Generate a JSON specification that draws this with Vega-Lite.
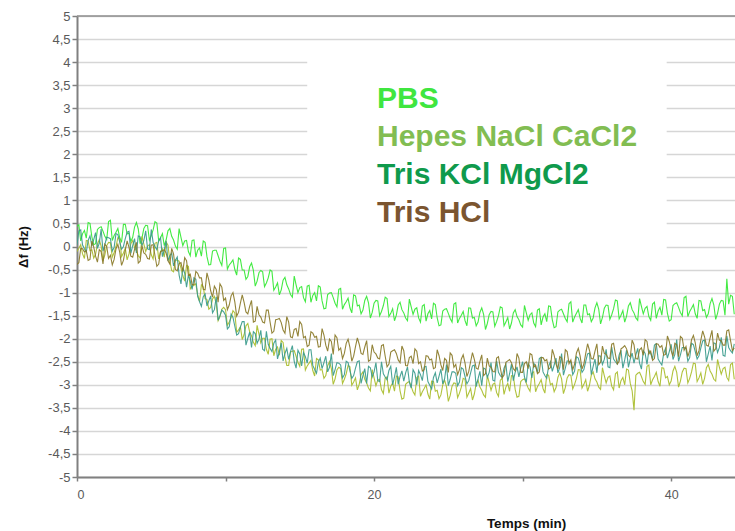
{
"$schema": "https://vega.github.io/schema/vega-lite/v6.json",
"width": 658, "height": 461,
"autosize": "none",
"padding": {"left": 77, "top": 16, "right": 0, "bottom": 54},
"background": "white",
"config": {"view": {"stroke": null}, "font": "Liberation Sans"},
"resolve": {"axis": {"x": "independent", "y": "independent"}},
"data": {"values": [
{"t":0,"PBS":0.44,"Hepes NaCl CaCl2":-0.11,"Tris KCl MgCl2":0.04,"Tris HCl":-0.39},
{"t":0.25,"PBS":0.12,"Hepes NaCl CaCl2":0.04,"Tris KCl MgCl2":0.36,"Tris HCl":-0.04},
{"t":0.5,"PBS":0.35,"Hepes NaCl CaCl2":-0.26,"Tris KCl MgCl2":-0.05,"Tris HCl":-0.12},
{"t":0.75,"PBS":0.52,"Hepes NaCl CaCl2":0.12,"Tris KCl MgCl2":0.13,"Tris HCl":-0.3},
{"t":1,"PBS":0.21,"Hepes NaCl CaCl2":-0.07,"Tris KCl MgCl2":0.01,"Tris HCl":0.12},
{"t":1.25,"PBS":0.06,"Hepes NaCl CaCl2":-0.17,"Tris KCl MgCl2":0.3,"Tris HCl":-0.21},
{"t":1.5,"PBS":0.41,"Hepes NaCl CaCl2":0.15,"Tris KCl MgCl2":0.07,"Tris HCl":-0.07},
{"t":1.75,"PBS":0.33,"Hepes NaCl CaCl2":-0.31,"Tris KCl MgCl2":-0.1,"Tris HCl":-0.38},
{"t":2,"PBS":0.15,"Hepes NaCl CaCl2":0.02,"Tris KCl MgCl2":0.2,"Tris HCl":0.0},
{"t":2.25,"PBS":0.57,"Hepes NaCl CaCl2":0.08,"Tris KCl MgCl2":0.17,"Tris HCl":-0.19},
{"t":2.5,"PBS":0.24,"Hepes NaCl CaCl2":-0.13,"Tris KCl MgCl2":-0.02,"Tris HCl":-0.28},
{"t":2.75,"PBS":0.39,"Hepes NaCl CaCl2":0.19,"Tris KCl MgCl2":0.26,"Tris HCl":0.05},
{"t":3,"PBS":0.09,"Hepes NaCl CaCl2":-0.22,"Tris KCl MgCl2":-0.06,"Tris HCl":-0.41},
{"t":3.25,"PBS":0.48,"Hepes NaCl CaCl2":-0.04,"Tris KCl MgCl2":0.17,"Tris HCl":-0.08},
{"t":3.5,"PBS":0.29,"Hepes NaCl CaCl2":-0.16,"Tris KCl MgCl2":0.33,"Tris HCl":-0.02},
{"t":3.75,"PBS":0.2,"Hepes NaCl CaCl2":0.13,"Tris KCl MgCl2":0.02,"Tris HCl":-0.23},
{"t":4,"PBS":0.52,"Hepes NaCl CaCl2":-0.09,"Tris KCl MgCl2":-0.14,"Tris HCl":0.09},
{"t":4.25,"PBS":0.06,"Hepes NaCl CaCl2":-0.25,"Tris KCl MgCl2":0.21,"Tris HCl":-0.32},
{"t":4.5,"PBS":0.39,"Hepes NaCl CaCl2":0.05,"Tris KCl MgCl2":0.13,"Tris HCl":-0.14},
{"t":4.75,"PBS":0.45,"Hepes NaCl CaCl2":0.01,"Tris KCl MgCl2":-0.05,"Tris HCl":-0.26},
{"t":5,"PBS":0.24,"Hepes NaCl CaCl2":-0.18,"Tris KCl MgCl2":0.37,"Tris HCl":0.03},
{"t":5.25,"PBS":0.54,"Hepes NaCl CaCl2":0.07,"Tris KCl MgCl2":0.0,"Tris HCl":-0.2},
{"t":5.5,"PBS":0.12,"Hepes NaCl CaCl2":-0.27,"Tris KCl MgCl2":0.12,"Tris HCl":-0.38},
{"t":5.75,"PBS":0.28,"Hepes NaCl CaCl2":-0.05,"Tris KCl MgCl2":-0.22,"Tris HCl":-0.09},
{"t":6,"PBS":0.14,"Hepes NaCl CaCl2":0.1,"Tris KCl MgCl2":0.12,"Tris HCl":-0.14},
{"t":6.25,"PBS":0.39,"Hepes NaCl CaCl2":-0.31,"Tris KCl MgCl2":-0.2,"Tris HCl":-0.38},
{"t":6.5,"PBS":0.14,"Hepes NaCl CaCl2":-0.55,"Tris KCl MgCl2":-0.42,"Tris HCl":-0.16},
{"t":6.75,"PBS":-0.06,"Hepes NaCl CaCl2":-0.3,"Tris KCl MgCl2":-0.23,"Tris HCl":-0.53},
{"t":7,"PBS":0.2,"Hepes NaCl CaCl2":-0.47,"Tris KCl MgCl2":-0.81,"Tris HCl":-0.35},
{"t":7.25,"PBS":0.12,"Hepes NaCl CaCl2":-0.75,"Tris KCl MgCl2":-0.58,"Tris HCl":-0.24},
{"t":7.5,"PBS":-0.11,"Hepes NaCl CaCl2":-0.43,"Tris KCl MgCl2":-0.62,"Tris HCl":-0.62},
{"t":7.75,"PBS":0.13,"Hepes NaCl CaCl2":-0.86,"Tris KCl MgCl2":-0.93,"Tris HCl":-0.83},
{"t":8,"PBS":-0.23,"Hepes NaCl CaCl2":-0.81,"Tris KCl MgCl2":-0.71,"Tris HCl":-0.54},
{"t":8.25,"PBS":-0.03,"Hepes NaCl CaCl2":-1.19,"Tris KCl MgCl2":-1.2,"Tris HCl":-0.68},
{"t":8.5,"PBS":0.12,"Hepes NaCl CaCl2":-0.88,"Tris KCl MgCl2":-1.09,"Tris HCl":-0.93},
{"t":8.75,"PBS":-0.22,"Hepes NaCl CaCl2":-1.15,"Tris KCl MgCl2":-1.29,"Tris HCl":-0.57},
{"t":9,"PBS":-0.39,"Hepes NaCl CaCl2":-1.32,"Tris KCl MgCl2":-1.07,"Tris HCl":-0.96},
{"t":9.25,"PBS":-0.08,"Hepes NaCl CaCl2":-1.08,"Tris KCl MgCl2":-1.37,"Tris HCl":-0.86},
{"t":9.5,"PBS":-0.2,"Hepes NaCl CaCl2":-1.61,"Tris KCl MgCl2":-1.6,"Tris HCl":-1.21},
{"t":9.75,"PBS":-0.41,"Hepes NaCl CaCl2":-1.36,"Tris KCl MgCl2":-1.38,"Tris HCl":-0.88},
{"t":10,"PBS":-0.03,"Hepes NaCl CaCl2":-1.37,"Tris KCl MgCl2":-1.49,"Tris HCl":-1.12},
{"t":10.25,"PBS":-0.4,"Hepes NaCl CaCl2":-1.64,"Tris KCl MgCl2":-1.74,"Tris HCl":-1.27},
{"t":10.5,"PBS":-0.29,"Hepes NaCl CaCl2":-1.39,"Tris KCl MgCl2":-1.54,"Tris HCl":-1.0},
{"t":10.75,"PBS":-0.62,"Hepes NaCl CaCl2":-1.86,"Tris KCl MgCl2":-1.92,"Tris HCl":-1.51},
{"t":11,"PBS":-0.28,"Hepes NaCl CaCl2":-1.74,"Tris KCl MgCl2":-1.75,"Tris HCl":-1.23},
{"t":11.25,"PBS":-0.51,"Hepes NaCl CaCl2":-1.91,"Tris KCl MgCl2":-1.63,"Tris HCl":-1.21},
{"t":11.5,"PBS":-0.65,"Hepes NaCl CaCl2":-1.67,"Tris KCl MgCl2":-1.99,"Tris HCl":-1.46},
{"t":11.75,"PBS":-0.36,"Hepes NaCl CaCl2":-1.94,"Tris KCl MgCl2":-2.19,"Tris HCl":-1.17},
{"t":12,"PBS":-0.86,"Hepes NaCl CaCl2":-2.15,"Tris KCl MgCl2":-1.89,"Tris HCl":-1.62},
{"t":12.25,"PBS":-0.57,"Hepes NaCl CaCl2":-1.9,"Tris KCl MgCl2":-2.01,"Tris HCl":-1.48},
{"t":12.5,"PBS":-0.55,"Hepes NaCl CaCl2":-1.99,"Tris KCl MgCl2":-2.23,"Tris HCl":-1.64},
{"t":12.75,"PBS":-0.79,"Hepes NaCl CaCl2":-2.23,"Tris KCl MgCl2":-1.84,"Tris HCl":-1.38},
{"t":13,"PBS":-0.51,"Hepes NaCl CaCl2":-2.01,"Tris KCl MgCl2":-2.21,"Tris HCl":-1.64},
{"t":13.25,"PBS":-0.95,"Hepes NaCl CaCl2":-2.37,"Tris KCl MgCl2":-2.1,"Tris HCl":-1.84},
{"t":13.5,"PBS":-0.79,"Hepes NaCl CaCl2":-2.18,"Tris KCl MgCl2":-2.44,"Tris HCl":-1.58},
{"t":13.75,"PBS":-0.94,"Hepes NaCl CaCl2":-2.04,"Tris KCl MgCl2":-2.09,"Tris HCl":-1.65},
{"t":14,"PBS":-0.67,"Hepes NaCl CaCl2":-2.39,"Tris KCl MgCl2":-2.32,"Tris HCl":-1.88},
{"t":14.25,"PBS":-0.92,"Hepes NaCl CaCl2":-2.58,"Tris KCl MgCl2":-2.45,"Tris HCl":-1.64},
{"t":14.5,"PBS":-1.1,"Hepes NaCl CaCl2":-2.27,"Tris KCl MgCl2":-2.15,"Tris HCl":-1.98},
{"t":14.75,"PBS":-0.83,"Hepes NaCl CaCl2":-2.38,"Tris KCl MgCl2":-2.64,"Tris HCl":-1.78},
{"t":15,"PBS":-0.89,"Hepes NaCl CaCl2":-2.6,"Tris KCl MgCl2":-2.33,"Tris HCl":-1.63},
{"t":15.25,"PBS":-1.11,"Hepes NaCl CaCl2":-2.22,"Tris KCl MgCl2":-2.3,"Tris HCl":-1.98},
{"t":15.5,"PBS":-0.86,"Hepes NaCl CaCl2":-2.59,"Tris KCl MgCl2":-2.53,"Tris HCl":-2.17},
{"t":15.75,"PBS":-1.21,"Hepes NaCl CaCl2":-2.47,"Tris KCl MgCl2":-2.24,"Tris HCl":-1.85},
{"t":16,"PBS":-1.0,"Hepes NaCl CaCl2":-2.81,"Tris KCl MgCl2":-2.67,"Tris HCl":-1.97},
{"t":16.25,"PBS":-0.85,"Hepes NaCl CaCl2":-2.46,"Tris KCl MgCl2":-2.51,"Tris HCl":-2.18},
{"t":16.5,"PBS":-1.18,"Hepes NaCl CaCl2":-2.67,"Tris KCl MgCl2":-2.65,"Tris HCl":-1.78},
{"t":16.75,"PBS":-1.34,"Hepes NaCl CaCl2":-2.8,"Tris KCl MgCl2":-2.38,"Tris HCl":-2.14},
{"t":17,"PBS":-1.01,"Hepes NaCl CaCl2":-2.5,"Tris KCl MgCl2":-2.62,"Tris HCl":-2.01},
{"t":17.25,"PBS":-1.11,"Hepes NaCl CaCl2":-2.99,"Tris KCl MgCl2":-2.8,"Tris HCl":-2.34},
{"t":17.5,"PBS":-1.31,"Hepes NaCl CaCl2":-2.68,"Tris KCl MgCl2":-2.52,"Tris HCl":-1.98},
{"t":17.75,"PBS":-0.91,"Hepes NaCl CaCl2":-2.65,"Tris KCl MgCl2":-2.57,"Tris HCl":-2.2},
{"t":18,"PBS":-1.26,"Hepes NaCl CaCl2":-2.88,"Tris KCl MgCl2":-2.78,"Tris HCl":-2.32},
{"t":18.25,"PBS":-1.12,"Hepes NaCl CaCl2":-2.58,"Tris KCl MgCl2":-2.52,"Tris HCl":-2.01},
{"t":18.5,"PBS":-1.44,"Hepes NaCl CaCl2":-3.01,"Tris KCl MgCl2":-2.86,"Tris HCl":-2.49},
{"t":18.75,"PBS":-1.07,"Hepes NaCl CaCl2":-2.85,"Tris KCl MgCl2":-2.64,"Tris HCl":-2.17},
{"t":19,"PBS":-1.27,"Hepes NaCl CaCl2":-2.99,"Tris KCl MgCl2":-2.48,"Tris HCl":-2.12},
{"t":19.25,"PBS":-1.38,"Hepes NaCl CaCl2":-2.72,"Tris KCl MgCl2":-2.8,"Tris HCl":-2.34},
{"t":19.5,"PBS":-1.08,"Hepes NaCl CaCl2":-2.96,"Tris KCl MgCl2":-2.97,"Tris HCl":-2.04},
{"t":19.75,"PBS":-1.55,"Hepes NaCl CaCl2":-3.13,"Tris KCl MgCl2":-2.63,"Tris HCl":-2.46},
{"t":20,"PBS":-1.23,"Hepes NaCl CaCl2":-2.85,"Tris KCl MgCl2":-2.72,"Tris HCl":-2.29},
{"t":20.25,"PBS":-1.18,"Hepes NaCl CaCl2":-2.9,"Tris KCl MgCl2":-2.91,"Tris HCl":-2.42},
{"t":20.5,"PBS":-1.41,"Hepes NaCl CaCl2":-3.11,"Tris KCl MgCl2":-2.5,"Tris HCl":-2.15},
{"t":20.75,"PBS":-1.1,"Hepes NaCl CaCl2":-2.85,"Tris KCl MgCl2":-2.83,"Tris HCl":-2.38},
{"t":21,"PBS":-1.52,"Hepes NaCl CaCl2":-3.18,"Tris KCl MgCl2":-2.69,"Tris HCl":-2.55},
{"t":21.25,"PBS":-1.35,"Hepes NaCl CaCl2":-2.96,"Tris KCl MgCl2":-3.0,"Tris HCl":-2.26},
{"t":21.5,"PBS":-1.49,"Hepes NaCl CaCl2":-2.81,"Tris KCl MgCl2":-2.62,"Tris HCl":-2.32},
{"t":21.75,"PBS":-1.21,"Hepes NaCl CaCl2":-3.13,"Tris KCl MgCl2":-2.82,"Tris HCl":-2.52},
{"t":22,"PBS":-1.44,"Hepes NaCl CaCl2":-3.29,"Tris KCl MgCl2":-2.92,"Tris HCl":-2.26},
{"t":22.25,"PBS":-1.61,"Hepes NaCl CaCl2":-2.95,"Tris KCl MgCl2":-2.61,"Tris HCl":-2.59},
{"t":22.5,"PBS":-1.31,"Hepes NaCl CaCl2":-3.04,"Tris KCl MgCl2":-3.07,"Tris HCl":-2.38},
{"t":22.75,"PBS":-1.36,"Hepes NaCl CaCl2":-3.22,"Tris KCl MgCl2":-2.75,"Tris HCl":-2.22},
{"t":23,"PBS":-1.55,"Hepes NaCl CaCl2":-2.81,"Tris KCl MgCl2":-2.69,"Tris HCl":-2.54},
{"t":23.25,"PBS":-1.29,"Hepes NaCl CaCl2":-3.15,"Tris KCl MgCl2":-2.91,"Tris HCl":-2.7},
{"t":23.5,"PBS":-1.62,"Hepes NaCl CaCl2":-3.0,"Tris KCl MgCl2":-2.6,"Tris HCl":-2.37},
{"t":23.75,"PBS":-1.39,"Hepes NaCl CaCl2":-3.31,"Tris KCl MgCl2":-3.01,"Tris HCl":-2.46},
{"t":24,"PBS":-1.23,"Hepes NaCl CaCl2":-2.93,"Tris KCl MgCl2":-2.84,"Tris HCl":-2.65},
{"t":24.25,"PBS":-1.55,"Hepes NaCl CaCl2":-3.12,"Tris KCl MgCl2":-2.96,"Tris HCl":-2.24},
{"t":24.5,"PBS":-1.7,"Hepes NaCl CaCl2":-3.22,"Tris KCl MgCl2":-2.66,"Tris HCl":-2.57},
{"t":24.75,"PBS":-1.36,"Hepes NaCl CaCl2":-2.9,"Tris KCl MgCl2":-2.87,"Tris HCl":-2.43},
{"t":25,"PBS":-1.45,"Hepes NaCl CaCl2":-3.36,"Tris KCl MgCl2":-3.02,"Tris HCl":-2.73},
{"t":25.25,"PBS":-1.64,"Hepes NaCl CaCl2":-3.03,"Tris KCl MgCl2":-2.72,"Tris HCl":-2.36},
{"t":25.5,"PBS":-1.22,"Hepes NaCl CaCl2":-2.97,"Tris KCl MgCl2":-2.75,"Tris HCl":-2.56},
{"t":25.75,"PBS":-1.56,"Hepes NaCl CaCl2":-3.18,"Tris KCl MgCl2":-2.94,"Tris HCl":-2.67},
{"t":26,"PBS":-1.41,"Hepes NaCl CaCl2":-2.86,"Tris KCl MgCl2":-2.66,"Tris HCl":-2.35},
{"t":26.25,"PBS":-1.72,"Hepes NaCl CaCl2":-3.27,"Tris KCl MgCl2":-2.98,"Tris HCl":-2.82},
{"t":26.5,"PBS":-1.34,"Hepes NaCl CaCl2":-3.08,"Tris KCl MgCl2":-2.74,"Tris HCl":-2.5},
{"t":26.75,"PBS":-1.54,"Hepes NaCl CaCl2":-3.2,"Tris KCl MgCl2":-2.57,"Tris HCl":-2.45},
{"t":27,"PBS":-1.64,"Hepes NaCl CaCl2":-2.9,"Tris KCl MgCl2":-2.87,"Tris HCl":-2.66},
{"t":27.25,"PBS":-1.33,"Hepes NaCl CaCl2":-3.12,"Tris KCl MgCl2":-3.02,"Tris HCl":-2.35},
{"t":27.5,"PBS":-1.8,"Hepes NaCl CaCl2":-3.27,"Tris KCl MgCl2":-2.66,"Tris HCl":-2.76},
{"t":27.75,"PBS":-1.48,"Hepes NaCl CaCl2":-2.96,"Tris KCl MgCl2":-2.73,"Tris HCl":-2.59},
{"t":28,"PBS":-1.42,"Hepes NaCl CaCl2":-2.99,"Tris KCl MgCl2":-2.9,"Tris HCl":-2.71},
{"t":28.25,"PBS":-1.63,"Hepes NaCl CaCl2":-3.17,"Tris KCl MgCl2":-2.48,"Tris HCl":-2.42},
{"t":28.5,"PBS":-1.31,"Hepes NaCl CaCl2":-2.9,"Tris KCl MgCl2":-2.8,"Tris HCl":-2.63},
{"t":28.75,"PBS":-1.72,"Hepes NaCl CaCl2":-3.21,"Tris KCl MgCl2":-2.64,"Tris HCl":-2.79},
{"t":29,"PBS":-1.54,"Hepes NaCl CaCl2":-2.97,"Tris KCl MgCl2":-2.93,"Tris HCl":-2.48},
{"t":29.25,"PBS":-1.66,"Hepes NaCl CaCl2":-2.8,"Tris KCl MgCl2":-2.55,"Tris HCl":-2.52},
{"t":29.5,"PBS":-1.37,"Hepes NaCl CaCl2":-3.1,"Tris KCl MgCl2":-2.73,"Tris HCl":-2.7},
{"t":29.75,"PBS":-1.59,"Hepes NaCl CaCl2":-3.25,"Tris KCl MgCl2":-2.83,"Tris HCl":-2.42},
{"t":30,"PBS":-1.75,"Hepes NaCl CaCl2":-2.89,"Tris KCl MgCl2":-2.5,"Tris HCl":-2.73},
{"t":30.25,"PBS":-1.44,"Hepes NaCl CaCl2":-2.97,"Tris KCl MgCl2":-2.95,"Tris HCl":-2.5},
{"t":30.5,"PBS":-1.48,"Hepes NaCl CaCl2":-3.14,"Tris KCl MgCl2":-2.61,"Tris HCl":-2.32},
{"t":30.75,"PBS":-1.66,"Hepes NaCl CaCl2":-2.72,"Tris KCl MgCl2":-2.53,"Tris HCl":-2.62},
{"t":31,"PBS":-1.38,"Hepes NaCl CaCl2":-3.04,"Tris KCl MgCl2":-2.73,"Tris HCl":-2.76},
{"t":31.25,"PBS":-1.7,"Hepes NaCl CaCl2":-2.89,"Tris KCl MgCl2":-2.4,"Tris HCl":-2.41},
{"t":31.5,"PBS":-1.46,"Hepes NaCl CaCl2":-3.18,"Tris KCl MgCl2":-2.8,"Tris HCl":-2.48},
{"t":31.75,"PBS":-1.29,"Hepes NaCl CaCl2":-2.79,"Tris KCl MgCl2":-2.6,"Tris HCl":-2.66},
{"t":32,"PBS":-1.59,"Hepes NaCl CaCl2":-2.97,"Tris KCl MgCl2":-2.71,"Tris HCl":-2.23},
{"t":32.25,"PBS":-1.74,"Hepes NaCl CaCl2":-3.06,"Tris KCl MgCl2":-2.42,"Tris HCl":-2.55},
{"t":32.5,"PBS":-1.38,"Hepes NaCl CaCl2":-2.74,"Tris KCl MgCl2":-2.63,"Tris HCl":-2.39},
{"t":32.75,"PBS":-1.46,"Hepes NaCl CaCl2":-3.19,"Tris KCl MgCl2":-2.79,"Tris HCl":-2.67},
{"t":33,"PBS":-1.63,"Hepes NaCl CaCl2":-2.85,"Tris KCl MgCl2":-2.48,"Tris HCl":-2.28},
{"t":33.25,"PBS":-1.2,"Hepes NaCl CaCl2":-2.79,"Tris KCl MgCl2":-2.51,"Tris HCl":-2.46},
{"t":33.5,"PBS":-1.53,"Hepes NaCl CaCl2":-2.99,"Tris KCl MgCl2":-2.7,"Tris HCl":-2.55},
{"t":33.75,"PBS":-1.37,"Hepes NaCl CaCl2":-2.67,"Tris KCl MgCl2":-2.42,"Tris HCl":-2.21},
{"t":34,"PBS":-1.66,"Hepes NaCl CaCl2":-3.07,"Tris KCl MgCl2":-2.73,"Tris HCl":-2.66},
{"t":34.25,"PBS":-1.27,"Hepes NaCl CaCl2":-2.89,"Tris KCl MgCl2":-2.49,"Tris HCl":-2.32},
{"t":34.5,"PBS":-1.46,"Hepes NaCl CaCl2":-3.01,"Tris KCl MgCl2":-2.31,"Tris HCl":-2.25},
{"t":34.75,"PBS":-1.55,"Hepes NaCl CaCl2":-2.72,"Tris KCl MgCl2":-2.6,"Tris HCl":-2.44},
{"t":35,"PBS":-1.22,"Hepes NaCl CaCl2":-2.94,"Tris KCl MgCl2":-2.74,"Tris HCl":-2.11},
{"t":35.25,"PBS":-1.68,"Hepes NaCl CaCl2":-3.1,"Tris KCl MgCl2":-2.38,"Tris HCl":-2.51},
{"t":35.5,"PBS":-1.34,"Hepes NaCl CaCl2":-2.8,"Tris KCl MgCl2":-2.45,"Tris HCl":-2.32},
{"t":35.75,"PBS":-1.28,"Hepes NaCl CaCl2":-2.84,"Tris KCl MgCl2":-2.61,"Tris HCl":-2.42},
{"t":36,"PBS":-1.48,"Hepes NaCl CaCl2":-3.03,"Tris KCl MgCl2":-2.18,"Tris HCl":-2.12},
{"t":36.25,"PBS":-1.16,"Hepes NaCl CaCl2":-2.76,"Tris KCl MgCl2":-2.5,"Tris HCl":-2.34},
{"t":36.5,"PBS":-1.57,"Hepes NaCl CaCl2":-3.07,"Tris KCl MgCl2":-2.35,"Tris HCl":-2.49},
{"t":36.75,"PBS":-1.39,"Hepes NaCl CaCl2":-2.84,"Tris KCl MgCl2":-2.64,"Tris HCl":-2.19},
{"t":37,"PBS":-1.51,"Hepes NaCl CaCl2":-2.66,"Tris KCl MgCl2":-2.25,"Tris HCl":-2.22},
{"t":37.25,"PBS":-1.22,"Hepes NaCl CaCl2":-2.97,"Tris KCl MgCl2":-2.44,"Tris HCl":-2.4},
{"t":37.5,"PBS":-1.44,"Hepes NaCl CaCl2":-3.55,"Tris KCl MgCl2":-2.53,"Tris HCl":-2.13},
{"t":37.75,"PBS":-1.6,"Hepes NaCl CaCl2":-2.75,"Tris KCl MgCl2":-2.21,"Tris HCl":-2.44},
{"t":38,"PBS":-1.3,"Hepes NaCl CaCl2":-2.82,"Tris KCl MgCl2":-2.66,"Tris HCl":-2.2},
{"t":38.25,"PBS":-1.34,"Hepes NaCl CaCl2":-2.99,"Tris KCl MgCl2":-2.32,"Tris HCl":-2.02},
{"t":38.5,"PBS":-1.52,"Hepes NaCl CaCl2":-2.57,"Tris KCl MgCl2":-2.25,"Tris HCl":-2.33},
{"t":38.75,"PBS":-1.25,"Hepes NaCl CaCl2":-2.89,"Tris KCl MgCl2":-2.44,"Tris HCl":-2.47},
{"t":39,"PBS":-1.56,"Hepes NaCl CaCl2":-2.73,"Tris KCl MgCl2":-2.11,"Tris HCl":-2.11},
{"t":39.25,"PBS":-1.32,"Hepes NaCl CaCl2":-3.03,"Tris KCl MgCl2":-2.51,"Tris HCl":-2.19},
{"t":39.5,"PBS":-1.15,"Hepes NaCl CaCl2":-2.64,"Tris KCl MgCl2":-2.32,"Tris HCl":-2.36},
{"t":39.75,"PBS":-1.45,"Hepes NaCl CaCl2":-2.82,"Tris KCl MgCl2":-2.42,"Tris HCl":-1.94},
{"t":40,"PBS":-1.59,"Hepes NaCl CaCl2":-2.92,"Tris KCl MgCl2":-2.12,"Tris HCl":-2.26},
{"t":40.25,"PBS":-1.24,"Hepes NaCl CaCl2":-2.6,"Tris KCl MgCl2":-2.34,"Tris HCl":-2.1},
{"t":40.5,"PBS":-1.32,"Hepes NaCl CaCl2":-3.05,"Tris KCl MgCl2":-2.49,"Tris HCl":-2.39},
{"t":40.75,"PBS":-1.5,"Hepes NaCl CaCl2":-2.72,"Tris KCl MgCl2":-2.19,"Tris HCl":-1.99},
{"t":41,"PBS":-1.08,"Hepes NaCl CaCl2":-2.65,"Tris KCl MgCl2":-2.22,"Tris HCl":-2.17},
{"t":41.25,"PBS":-1.41,"Hepes NaCl CaCl2":-2.86,"Tris KCl MgCl2":-2.41,"Tris HCl":-2.26},
{"t":41.5,"PBS":-1.26,"Hepes NaCl CaCl2":-2.53,"Tris KCl MgCl2":-2.13,"Tris HCl":-1.93},
{"t":41.75,"PBS":-1.56,"Hepes NaCl CaCl2":-2.93,"Tris KCl MgCl2":-2.44,"Tris HCl":-2.37},
{"t":42,"PBS":-1.18,"Hepes NaCl CaCl2":-2.74,"Tris KCl MgCl2":-2.2,"Tris HCl":-2.03},
{"t":42.25,"PBS":-1.37,"Hepes NaCl CaCl2":-2.86,"Tris KCl MgCl2":-2.03,"Tris HCl":-1.96},
{"t":42.5,"PBS":-1.46,"Hepes NaCl CaCl2":-2.56,"Tris KCl MgCl2":-2.33,"Tris HCl":-2.16},
{"t":42.75,"PBS":-1.13,"Hepes NaCl CaCl2":-2.77,"Tris KCl MgCl2":-2.47,"Tris HCl":-1.82},
{"t":43,"PBS":-1.58,"Hepes NaCl CaCl2":-2.92,"Tris KCl MgCl2":-2.11,"Tris HCl":-2.22},
{"t":43.25,"PBS":-1.25,"Hepes NaCl CaCl2":-2.62,"Tris KCl MgCl2":-2.19,"Tris HCl":-2.03},
{"t":43.5,"PBS":-1.18,"Hepes NaCl CaCl2":-2.65,"Tris KCl MgCl2":-2.36,"Tris HCl":-2.14},
{"t":43.75,"PBS":-0.7,"Hepes NaCl CaCl2":-2.84,"Tris KCl MgCl2":-1.94,"Tris HCl":-1.83},
{"t":44,"PBS":-1.06,"Hepes NaCl CaCl2":-2.56,"Tris KCl MgCl2":-2.26,"Tris HCl":-2.04},
{"t":44.25,"PBS":-1.47,"Hepes NaCl CaCl2":-2.88,"Tris KCl MgCl2":-2.11,"Tris HCl":-2.2},
{"t":0.125,"PBS":0.47,"Hepes NaCl CaCl2":-0.04,"Tris KCl MgCl2":0.34,"Tris HCl":-0.35},
{"t":0.375,"PBS":0.28,"Hepes NaCl CaCl2":-0.16,"Tris KCl MgCl2":0.03,"Tris HCl":-0.05},
{"t":0.625,"PBS":0.18,"Hepes NaCl CaCl2":0.13,"Tris KCl MgCl2":-0.12,"Tris HCl":-0.09},
{"t":0.875,"PBS":0.5,"Hepes NaCl CaCl2":-0.09,"Tris KCl MgCl2":0.23,"Tris HCl":-0.28},
{"t":1.125,"PBS":0.04,"Hepes NaCl CaCl2":-0.25,"Tris KCl MgCl2":0.15,"Tris HCl":-0.01},
{"t":1.375,"PBS":0.37,"Hepes NaCl CaCl2":0.05,"Tris KCl MgCl2":-0.04,"Tris HCl":-0.34},
{"t":1.625,"PBS":0.43,"Hepes NaCl CaCl2":0.01,"Tris KCl MgCl2":0.38,"Tris HCl":-0.11},
{"t":1.875,"PBS":0.22,"Hepes NaCl CaCl2":-0.18,"Tris KCl MgCl2":0.04,"Tris HCl":0.05},
{"t":2.125,"PBS":0.54,"Hepes NaCl CaCl2":0.09,"Tris KCl MgCl2":0.19,"Tris HCl":-0.26},
{"t":2.375,"PBS":0.13,"Hepes NaCl CaCl2":-0.23,"Tris KCl MgCl2":-0.1,"Tris HCl":-0.4},
{"t":2.625,"PBS":0.31,"Hepes NaCl CaCl2":0.0,"Tris KCl MgCl2":0.28,"Tris HCl":-0.05},
{"t":2.875,"PBS":0.19,"Hepes NaCl CaCl2":0.17,"Tris KCl MgCl2":0.1,"Tris HCl":-0.12},
{"t":3.125,"PBS":0.48,"Hepes NaCl CaCl2":-0.14,"Tris KCl MgCl2":0.0,"Tris HCl":-0.3},
{"t":3.375,"PBS":0.27,"Hepes NaCl CaCl2":-0.29,"Tris KCl MgCl2":0.31,"Tris HCl":0.12},
{"t":3.625,"PBS":0.11,"Hepes NaCl CaCl2":0.06,"Tris KCl MgCl2":-0.15,"Tris HCl":-0.21},
{"t":3.875,"PBS":0.42,"Hepes NaCl CaCl2":-0.02,"Tris KCl MgCl2":0.17,"Tris HCl":-0.06},
{"t":4.125,"PBS":0.38,"Hepes NaCl CaCl2":-0.2,"Tris KCl MgCl2":0.23,"Tris HCl":-0.36},
{"t":4.375,"PBS":0.19,"Hepes NaCl CaCl2":0.22,"Tris KCl MgCl2":0.02,"Tris HCl":0.02},
{"t":4.625,"PBS":0.46,"Hepes NaCl CaCl2":-0.11,"Tris KCl MgCl2":0.34,"Tris HCl":-0.17},
{"t":4.875,"PBS":0.14,"Hepes NaCl CaCl2":0.04,"Tris KCl MgCl2":-0.07,"Tris HCl":-0.27},
{"t":5.125,"PBS":0.36,"Hepes NaCl CaCl2":-0.27,"Tris KCl MgCl2":0.09,"Tris HCl":0.04},
{"t":5.375,"PBS":0.51,"Hepes NaCl CaCl2":0.09,"Tris KCl MgCl2":-0.07,"Tris HCl":-0.43},
{"t":5.625,"PBS":0.19,"Hepes NaCl CaCl2":-0.11,"Tris KCl MgCl2":0.19,"Tris HCl":-0.11},
{"t":5.875,"PBS":0.02,"Hepes NaCl CaCl2":-0.23,"Tris KCl MgCl2":-0.07,"Tris HCl":-0.07},
{"t":6.125,"PBS":0.34,"Hepes NaCl CaCl2":0.03,"Tris KCl MgCl2":-0.31,"Tris HCl":-0.31},
{"t":6.375,"PBS":0.22,"Hepes NaCl CaCl2":-0.52,"Tris KCl MgCl2":-0.14,"Tris HCl":-0.04},
{"t":6.625,"PBS":0.01,"Hepes NaCl CaCl2":-0.29,"Tris KCl MgCl2":-0.3,"Tris HCl":-0.5},
{"t":6.875,"PBS":0.39,"Hepes NaCl CaCl2":-0.32,"Tris KCl MgCl2":-0.62,"Tris HCl":-0.37},
{"t":7.125,"PBS":0.02,"Hepes NaCl CaCl2":-0.63,"Tris KCl MgCl2":-0.46,"Tris HCl":-0.54},
{"t":7.375,"PBS":0.13,"Hepes NaCl CaCl2":-0.41,"Tris KCl MgCl2":-0.88,"Tris HCl":-0.31},
{"t":7.625,"PBS":-0.2,"Hepes NaCl CaCl2":-0.92,"Tris KCl MgCl2":-0.75,"Tris HCl":-0.6},
{"t":7.875,"PBS":0.14,"Hepes NaCl CaCl2":-0.84,"Tris KCl MgCl2":-0.68,"Tris HCl":-0.82},
{"t":8.125,"PBS":-0.08,"Hepes NaCl CaCl2":-1.05,"Tris KCl MgCl2":-1.08,"Tris HCl":-0.58},
{"t":8.375,"PBS":-0.21,"Hepes NaCl CaCl2":-0.83,"Tris KCl MgCl2":-1.3,"Tris HCl":-0.68},
{"t":8.625,"PBS":0.09,"Hepes NaCl CaCl2":-1.13,"Tris KCl MgCl2":-1.03,"Tris HCl":-0.94},
{"t":8.875,"PBS":-0.4,"Hepes NaCl CaCl2":-1.36,"Tris KCl MgCl2":-1.18,"Tris HCl":-0.73},
{"t":9.125,"PBS":-0.1,"Hepes NaCl CaCl2":-1.14,"Tris KCl MgCl2":-1.44,"Tris HCl":-1.1},
{"t":9.375,"PBS":-0.08,"Hepes NaCl CaCl2":-1.25,"Tris KCl MgCl2":-1.09,"Tris HCl":-0.93},
{"t":9.625,"PBS":-0.32,"Hepes NaCl CaCl2":-1.52,"Tris KCl MgCl2":-1.5,"Tris HCl":-0.81},
{"t":9.875,"PBS":-0.04,"Hepes NaCl CaCl2":-1.32,"Tris KCl MgCl2":-1.42,"Tris HCl":-1.17},
{"t":10.125,"PBS":-0.49,"Hepes NaCl CaCl2":-1.71,"Tris KCl MgCl2":-1.79,"Tris HCl":-1.37},
{"t":10.375,"PBS":-0.35,"Hepes NaCl CaCl2":-1.54,"Tris KCl MgCl2":-1.47,"Tris HCl":-1.07},
{"t":10.625,"PBS":-0.5,"Hepes NaCl CaCl2":-1.44,"Tris KCl MgCl2":-1.73,"Tris HCl":-1.2},
{"t":10.875,"PBS":-0.25,"Hepes NaCl CaCl2":-1.81,"Tris KCl MgCl2":-1.89,"Tris HCl":-1.43},
{"t":11.125,"PBS":-0.51,"Hepes NaCl CaCl2":-2.02,"Tris KCl MgCl2":-1.63,"Tris HCl":-1.05},
{"t":11.375,"PBS":-0.71,"Hepes NaCl CaCl2":-1.72,"Tris KCl MgCl2":-2.14,"Tris HCl":-1.42},
{"t":11.625,"PBS":-0.44,"Hepes NaCl CaCl2":-1.85,"Tris KCl MgCl2":-1.86,"Tris HCl":-1.3},
{"t":11.875,"PBS":-0.52,"Hepes NaCl CaCl2":-2.08,"Tris KCl MgCl2":-1.85,"Tris HCl":-1.64},
{"t":12.125,"PBS":-0.75,"Hepes NaCl CaCl2":-1.71,"Tris KCl MgCl2":-2.1,"Tris HCl":-1.3},
{"t":12.375,"PBS":-0.52,"Hepes NaCl CaCl2":-2.09,"Tris KCl MgCl2":-1.82,"Tris HCl":-1.53},
{"t":12.625,"PBS":-0.87,"Hepes NaCl CaCl2":-1.99,"Tris KCl MgCl2":-2.26,"Tris HCl":-1.66},
{"t":12.875,"PBS":-0.68,"Hepes NaCl CaCl2":-2.34,"Tris KCl MgCl2":-2.12,"Tris HCl":-1.38},
{"t":13.125,"PBS":-0.54,"Hepes NaCl CaCl2":-2.0,"Tris KCl MgCl2":-2.28,"Tris HCl":-1.88},
{"t":13.375,"PBS":-0.88,"Hepes NaCl CaCl2":-2.23,"Tris KCl MgCl2":-2.03,"Tris HCl":-1.59},
{"t":13.625,"PBS":-1.05,"Hepes NaCl CaCl2":-2.36,"Tris KCl MgCl2":-2.28,"Tris HCl":-1.56},
{"t":13.875,"PBS":-0.73,"Hepes NaCl CaCl2":-2.08,"Tris KCl MgCl2":-2.48,"Tris HCl":-1.81},
{"t":14.125,"PBS":-0.83,"Hepes NaCl CaCl2":-2.58,"Tris KCl MgCl2":-2.21,"Tris HCl":-1.52},
{"t":14.375,"PBS":-1.04,"Hepes NaCl CaCl2":-2.29,"Tris KCl MgCl2":-2.28,"Tris HCl":-1.96},
{"t":14.625,"PBS":-0.64,"Hepes NaCl CaCl2":-2.26,"Tris KCl MgCl2":-2.49,"Tris HCl":-1.8},
{"t":14.875,"PBS":-1.0,"Hepes NaCl CaCl2":-2.51,"Tris KCl MgCl2":-2.25,"Tris HCl":-1.95},
{"t":15.125,"PBS":-0.87,"Hepes NaCl CaCl2":-2.23,"Tris KCl MgCl2":-2.59,"Tris HCl":-1.69},
{"t":15.375,"PBS":-1.2,"Hepes NaCl CaCl2":-2.68,"Tris KCl MgCl2":-2.39,"Tris HCl":-1.95},
{"t":15.625,"PBS":-0.84,"Hepes NaCl CaCl2":-2.53,"Tris KCl MgCl2":-2.24,"Tris HCl":-2.14},
{"t":15.875,"PBS":-1.06,"Hepes NaCl CaCl2":-2.69,"Tris KCl MgCl2":-2.58,"Tris HCl":-1.88},
{"t":16.125,"PBS":-1.18,"Hepes NaCl CaCl2":-2.43,"Tris KCl MgCl2":-2.75,"Tris HCl":-1.95},
{"t":16.375,"PBS":-0.88,"Hepes NaCl CaCl2":-2.68,"Tris KCl MgCl2":-2.42,"Tris HCl":-2.17},
{"t":16.625,"PBS":-1.35,"Hepes NaCl CaCl2":-2.86,"Tris KCl MgCl2":-2.52,"Tris HCl":-1.92},
{"t":16.875,"PBS":-1.04,"Hepes NaCl CaCl2":-2.59,"Tris KCl MgCl2":-2.72,"Tris HCl":-2.27},
{"t":17.125,"PBS":-1.0,"Hepes NaCl CaCl2":-2.65,"Tris KCl MgCl2":-2.32,"Tris HCl":-2.06},
{"t":17.375,"PBS":-1.23,"Hepes NaCl CaCl2":-2.87,"Tris KCl MgCl2":-2.67,"Tris HCl":-1.92},
{"t":17.625,"PBS":-0.93,"Hepes NaCl CaCl2":-2.62,"Tris KCl MgCl2":-2.53,"Tris HCl":-2.25},
{"t":17.875,"PBS":-1.36,"Hepes NaCl CaCl2":-2.97,"Tris KCl MgCl2":-2.85,"Tris HCl":-2.43},
{"t":18.125,"PBS":-1.2,"Hepes NaCl CaCl2":-2.76,"Tris KCl MgCl2":-2.49,"Tris HCl":-2.1},
{"t":18.375,"PBS":-1.33,"Hepes NaCl CaCl2":-2.61,"Tris KCl MgCl2":-2.69,"Tris HCl":-2.19},
{"t":18.625,"PBS":-1.05,"Hepes NaCl CaCl2":-2.94,"Tris KCl MgCl2":-2.8,"Tris HCl":-2.38},
{"t":18.875,"PBS":-1.29,"Hepes NaCl CaCl2":-3.11,"Tris KCl MgCl2":-2.5,"Tris HCl":-1.98},
{"t":19.125,"PBS":-1.46,"Hepes NaCl CaCl2":-2.78,"Tris KCl MgCl2":-2.97,"Tris HCl":-2.32},
{"t":19.375,"PBS":-1.17,"Hepes NaCl CaCl2":-2.88,"Tris KCl MgCl2":-2.65,"Tris HCl":-2.18},
{"t":19.625,"PBS":-1.22,"Hepes NaCl CaCl2":-3.07,"Tris KCl MgCl2":-2.6,"Tris HCl":-2.49},
{"t":19.875,"PBS":-1.43,"Hepes NaCl CaCl2":-2.67,"Tris KCl MgCl2":-2.83,"Tris HCl":-2.13},
{"t":20.125,"PBS":-1.17,"Hepes NaCl CaCl2":-3.02,"Tris KCl MgCl2":-2.52,"Tris HCl":-2.33},
{"t":20.375,"PBS":-1.5,"Hepes NaCl CaCl2":-2.88,"Tris KCl MgCl2":-2.93,"Tris HCl":-2.44},
{"t":20.625,"PBS":-1.28,"Hepes NaCl CaCl2":-3.19,"Tris KCl MgCl2":-2.76,"Tris HCl":-2.13},
{"t":20.875,"PBS":-1.13,"Hepes NaCl CaCl2":-2.83,"Tris KCl MgCl2":-2.89,"Tris HCl":-2.61},
{"t":21.125,"PBS":-1.45,"Hepes NaCl CaCl2":-3.03,"Tris KCl MgCl2":-2.6,"Tris HCl":-2.29},
{"t":21.375,"PBS":-1.61,"Hepes NaCl CaCl2":-3.14,"Tris KCl MgCl2":-2.83,"Tris HCl":-2.24},
{"t":21.625,"PBS":-1.27,"Hepes NaCl CaCl2":-2.83,"Tris KCl MgCl2":-2.99,"Tris HCl":-2.46},
{"t":21.875,"PBS":-1.37,"Hepes NaCl CaCl2":-3.31,"Tris KCl MgCl2":-2.7,"Tris HCl":-2.16},
{"t":22.125,"PBS":-1.55,"Hepes NaCl CaCl2":-2.99,"Tris KCl MgCl2":-2.74,"Tris HCl":-2.58},
{"t":22.375,"PBS":-1.14,"Hepes NaCl CaCl2":-2.93,"Tris KCl MgCl2":-2.94,"Tris HCl":-2.41},
{"t":22.625,"PBS":-1.47,"Hepes NaCl CaCl2":-3.15,"Tris KCl MgCl2":-2.67,"Tris HCl":-2.54},
{"t":22.875,"PBS":-1.33,"Hepes NaCl CaCl2":-2.84,"Tris KCl MgCl2":-3.0,"Tris HCl":-2.27},
{"t":23.125,"PBS":-1.64,"Hepes NaCl CaCl2":-3.25,"Tris KCl MgCl2":-2.78,"Tris HCl":-2.5},
{"t":23.375,"PBS":-1.26,"Hepes NaCl CaCl2":-3.08,"Tris KCl MgCl2":-2.61,"Tris HCl":-2.67},
{"t":23.625,"PBS":-1.46,"Hepes NaCl CaCl2":-3.2,"Tris KCl MgCl2":-2.93,"Tris HCl":-2.38},
{"t":23.875,"PBS":-1.57,"Hepes NaCl CaCl2":-2.92,"Tris KCl MgCl2":-3.09,"Tris HCl":-2.44},
{"t":24.125,"PBS":-1.26,"Hepes NaCl CaCl2":-3.14,"Tris KCl MgCl2":-2.74,"Tris HCl":-2.63},
{"t":24.375,"PBS":-1.72,"Hepes NaCl CaCl2":-3.3,"Tris KCl MgCl2":-2.81,"Tris HCl":-2.37},
{"t":24.625,"PBS":-1.4,"Hepes NaCl CaCl2":-3.0,"Tris KCl MgCl2":-2.98,"Tris HCl":-2.69},
{"t":24.875,"PBS":-1.35,"Hepes NaCl CaCl2":-3.04,"Tris KCl MgCl2":-2.56,"Tris HCl":-2.47},
{"t":25.125,"PBS":-1.56,"Hepes NaCl CaCl2":-3.23,"Tris KCl MgCl2":-2.88,"Tris HCl":-2.31},
{"t":25.375,"PBS":-1.25,"Hepes NaCl CaCl2":-2.96,"Tris KCl MgCl2":-2.72,"Tris HCl":-2.62},
{"t":25.625,"PBS":-1.66,"Hepes NaCl CaCl2":-3.28,"Tris KCl MgCl2":-3.02,"Tris HCl":-2.78},
{"t":25.875,"PBS":-1.49,"Hepes NaCl CaCl2":-3.05,"Tris KCl MgCl2":-2.63,"Tris HCl":-2.44},
{"t":26.125,"PBS":-1.61,"Hepes NaCl CaCl2":-2.88,"Tris KCl MgCl2":-2.82,"Tris HCl":-2.53},
{"t":26.375,"PBS":-1.33,"Hepes NaCl CaCl2":-3.18,"Tris KCl MgCl2":-2.91,"Tris HCl":-2.71},
{"t":26.625,"PBS":-1.55,"Hepes NaCl CaCl2":-3.33,"Tris KCl MgCl2":-2.59,"Tris HCl":-2.3},
{"t":26.875,"PBS":-1.72,"Hepes NaCl CaCl2":-2.97,"Tris KCl MgCl2":-3.04,"Tris HCl":-2.64},
{"t":27.125,"PBS":-1.43,"Hepes NaCl CaCl2":-3.05,"Tris KCl MgCl2":-2.71,"Tris HCl":-2.49},
{"t":27.375,"PBS":-1.47,"Hepes NaCl CaCl2":-3.22,"Tris KCl MgCl2":-2.64,"Tris HCl":-2.8},
{"t":27.625,"PBS":-1.67,"Hepes NaCl CaCl2":-2.79,"Tris KCl MgCl2":-2.84,"Tris HCl":-2.42},
{"t":27.875,"PBS":-1.41,"Hepes NaCl CaCl2":-3.12,"Tris KCl MgCl2":-2.52,"Tris HCl":-2.62},
{"t":28.125,"PBS":-1.73,"Hepes NaCl CaCl2":-2.96,"Tris KCl MgCl2":-2.92,"Tris HCl":-2.72},
{"t":28.375,"PBS":-1.5,"Hepes NaCl CaCl2":-3.25,"Tris KCl MgCl2":-2.73,"Tris HCl":-2.39},
{"t":28.625,"PBS":-1.33,"Hepes NaCl CaCl2":-2.86,"Tris KCl MgCl2":-2.84,"Tris HCl":-2.85},
{"t":28.875,"PBS":-1.64,"Hepes NaCl CaCl2":-3.05,"Tris KCl MgCl2":-2.55,"Tris HCl":-2.51},
{"t":29.125,"PBS":-1.79,"Hepes NaCl CaCl2":-3.14,"Tris KCl MgCl2":-2.76,"Tris HCl":-2.45},
{"t":29.375,"PBS":-1.44,"Hepes NaCl CaCl2":-2.81,"Tris KCl MgCl2":-2.91,"Tris HCl":-2.65},
{"t":29.625,"PBS":-1.52,"Hepes NaCl CaCl2":-3.27,"Tris KCl MgCl2":-2.61,"Tris HCl":-2.32},
{"t":29.875,"PBS":-1.7,"Hepes NaCl CaCl2":-2.93,"Tris KCl MgCl2":-2.64,"Tris HCl":-2.73},
{"t":30.125,"PBS":-1.28,"Hepes NaCl CaCl2":-2.87,"Tris KCl MgCl2":-2.83,"Tris HCl":-2.54},
{"t":30.375,"PBS":-1.6,"Hepes NaCl CaCl2":-3.07,"Tris KCl MgCl2":-2.54,"Tris HCl":-2.65},
{"t":30.625,"PBS":-1.44,"Hepes NaCl CaCl2":-2.75,"Tris KCl MgCl2":-2.85,"Tris HCl":-2.35},
{"t":30.875,"PBS":-1.74,"Hepes NaCl CaCl2":-3.15,"Tris KCl MgCl2":-2.61,"Tris HCl":-2.57},
{"t":31.125,"PBS":-1.35,"Hepes NaCl CaCl2":-2.97,"Tris KCl MgCl2":-2.43,"Tris HCl":-2.72},
{"t":31.375,"PBS":-1.53,"Hepes NaCl CaCl2":-3.08,"Tris KCl MgCl2":-2.72,"Tris HCl":-2.41},
{"t":31.625,"PBS":-1.63,"Hepes NaCl CaCl2":-2.78,"Tris KCl MgCl2":-2.86,"Tris HCl":-2.45},
{"t":31.875,"PBS":-1.3,"Hepes NaCl CaCl2":-3.0,"Tris KCl MgCl2":-2.5,"Tris HCl":-2.63},
{"t":32.125,"PBS":-1.76,"Hepes NaCl CaCl2":-3.15,"Tris KCl MgCl2":-2.57,"Tris HCl":-2.36},
{"t":32.375,"PBS":-1.42,"Hepes NaCl CaCl2":-2.84,"Tris KCl MgCl2":-2.74,"Tris HCl":-2.66},
{"t":32.625,"PBS":-1.36,"Hepes NaCl CaCl2":-2.87,"Tris KCl MgCl2":-2.32,"Tris HCl":-2.42},
{"t":32.875,"PBS":-1.56,"Hepes NaCl CaCl2":-3.06,"Tris KCl MgCl2":-2.64,"Tris HCl":-2.24},
{"t":33.125,"PBS":-1.24,"Hepes NaCl CaCl2":-2.78,"Tris KCl MgCl2":-2.49,"Tris HCl":-2.54},
{"t":33.375,"PBS":-1.64,"Hepes NaCl CaCl2":-3.09,"Tris KCl MgCl2":-2.78,"Tris HCl":-2.67},
{"t":33.625,"PBS":-1.45,"Hepes NaCl CaCl2":-2.86,"Tris KCl MgCl2":-2.39,"Tris HCl":-2.31},
{"t":33.875,"PBS":-1.56,"Hepes NaCl CaCl2":-2.68,"Tris KCl MgCl2":-2.57,"Tris HCl":-2.38},
{"t":34.125,"PBS":-1.27,"Hepes NaCl CaCl2":-2.99,"Tris KCl MgCl2":-2.67,"Tris HCl":-2.55},
{"t":34.375,"PBS":-1.48,"Hepes NaCl CaCl2":-3.14,"Tris KCl MgCl2":-2.33,"Tris HCl":-2.11},
{"t":34.625,"PBS":-1.63,"Hepes NaCl CaCl2":-2.79,"Tris KCl MgCl2":-2.78,"Tris HCl":-2.43},
{"t":34.875,"PBS":-1.33,"Hepes NaCl CaCl2":-2.87,"Tris KCl MgCl2":-2.44,"Tris HCl":-2.27},
{"t":35.125,"PBS":-1.36,"Hepes NaCl CaCl2":-3.05,"Tris KCl MgCl2":-2.37,"Tris HCl":-2.56},
{"t":35.375,"PBS":-1.54,"Hepes NaCl CaCl2":-2.63,"Tris KCl MgCl2":-2.56,"Tris HCl":-2.16},
{"t":35.625,"PBS":-1.27,"Hepes NaCl CaCl2":-2.96,"Tris KCl MgCl2":-2.23,"Tris HCl":-2.34},
{"t":35.875,"PBS":-1.58,"Hepes NaCl CaCl2":-2.81,"Tris KCl MgCl2":-2.63,"Tris HCl":-2.43},
{"t":36.125,"PBS":-1.35,"Hepes NaCl CaCl2":-3.11,"Tris KCl MgCl2":-2.44,"Tris HCl":-2.1},
{"t":36.375,"PBS":-1.18,"Hepes NaCl CaCl2":-2.72,"Tris KCl MgCl2":-2.55,"Tris HCl":-2.55},
{"t":36.625,"PBS":-1.49,"Hepes NaCl CaCl2":-2.91,"Tris KCl MgCl2":-2.25,"Tris HCl":-2.22},
{"t":36.875,"PBS":-1.64,"Hepes NaCl CaCl2":-3.0,"Tris KCl MgCl2":-2.46,"Tris HCl":-2.15},
{"t":37.125,"PBS":-1.29,"Hepes NaCl CaCl2":-2.68,"Tris KCl MgCl2":-2.62,"Tris HCl":-2.36},
{"t":37.375,"PBS":-1.37,"Hepes NaCl CaCl2":-3.13,"Tris KCl MgCl2":-2.31,"Tris HCl":-2.03},
{"t":37.625,"PBS":-1.55,"Hepes NaCl CaCl2":-2.79,"Tris KCl MgCl2":-2.35,"Tris HCl":-2.43},
{"t":37.875,"PBS":-1.13,"Hepes NaCl CaCl2":-2.73,"Tris KCl MgCl2":-2.53,"Tris HCl":-2.24},
{"t":38.125,"PBS":-1.46,"Hepes NaCl CaCl2":-2.93,"Tris KCl MgCl2":-2.26,"Tris HCl":-2.36},
{"t":38.375,"PBS":-1.3,"Hepes NaCl CaCl2":-2.6,"Tris KCl MgCl2":-2.56,"Tris HCl":-2.06},
{"t":38.625,"PBS":-1.6,"Hepes NaCl CaCl2":-3.0,"Tris KCl MgCl2":-2.32,"Tris HCl":-2.27},
{"t":38.875,"PBS":-1.21,"Hepes NaCl CaCl2":-2.82,"Tris KCl MgCl2":-2.14,"Tris HCl":-2.43},
{"t":39.125,"PBS":-1.4,"Hepes NaCl CaCl2":-2.93,"Tris KCl MgCl2":-2.44,"Tris HCl":-2.12},
{"t":39.375,"PBS":-1.49,"Hepes NaCl CaCl2":-2.63,"Tris KCl MgCl2":-2.57,"Tris HCl":-2.15},
{"t":39.625,"PBS":-1.16,"Hepes NaCl CaCl2":-2.85,"Tris KCl MgCl2":-2.21,"Tris HCl":-2.34},
{"t":39.875,"PBS":-1.62,"Hepes NaCl CaCl2":-3.0,"Tris KCl MgCl2":-2.28,"Tris HCl":-2.06},
{"t":40.125,"PBS":-1.28,"Hepes NaCl CaCl2":-2.7,"Tris KCl MgCl2":-2.45,"Tris HCl":-2.38},
{"t":40.375,"PBS":-1.22,"Hepes NaCl CaCl2":-2.73,"Tris KCl MgCl2":-2.02,"Tris HCl":-2.13},
{"t":40.625,"PBS":-1.43,"Hepes NaCl CaCl2":-2.92,"Tris KCl MgCl2":-2.35,"Tris HCl":-1.95},
{"t":40.875,"PBS":-1.11,"Hepes NaCl CaCl2":-2.64,"Tris KCl MgCl2":-2.19,"Tris HCl":-2.25},
{"t":41.125,"PBS":-1.52,"Hepes NaCl CaCl2":-2.96,"Tris KCl MgCl2":-2.49,"Tris HCl":-2.39},
{"t":41.375,"PBS":-1.34,"Hepes NaCl CaCl2":-2.72,"Tris KCl MgCl2":-2.1,"Tris HCl":-2.02},
{"t":41.625,"PBS":-1.46,"Hepes NaCl CaCl2":-2.54,"Tris KCl MgCl2":-2.28,"Tris HCl":-2.09},
{"t":41.875,"PBS":-1.17,"Hepes NaCl CaCl2":-2.85,"Tris KCl MgCl2":-2.37,"Tris HCl":-2.26},
{"t":42.125,"PBS":-1.39,"Hepes NaCl CaCl2":-2.99,"Tris KCl MgCl2":-2.05,"Tris HCl":-1.83},
{"t":42.375,"PBS":-1.54,"Hepes NaCl CaCl2":-2.63,"Tris KCl MgCl2":-2.5,"Tris HCl":-2.14},
{"t":42.625,"PBS":-1.24,"Hepes NaCl CaCl2":-2.7,"Tris KCl MgCl2":-2.16,"Tris HCl":-1.98},
{"t":42.875,"PBS":-1.27,"Hepes NaCl CaCl2":-2.88,"Tris KCl MgCl2":-2.09,"Tris HCl":-2.27},
{"t":43.125,"PBS":-1.45,"Hepes NaCl CaCl2":-2.45,"Tris KCl MgCl2":-2.3,"Tris HCl":-1.88},
{"t":43.375,"PBS":-1.17,"Hepes NaCl CaCl2":-2.77,"Tris KCl MgCl2":-1.97,"Tris HCl":-2.05},
{"t":43.625,"PBS":-1.49,"Hepes NaCl CaCl2":-2.62,"Tris KCl MgCl2":-2.38,"Tris HCl":-2.14},
{"t":43.875,"PBS":-1.25,"Hepes NaCl CaCl2":-2.91,"Tris KCl MgCl2":-2.19,"Tris HCl":-1.81},
{"t":44.125,"PBS":-1.08,"Hepes NaCl CaCl2":-2.53,"Tris KCl MgCl2":-2.31,"Tris HCl":-2.26}
]},
"layer": [
{
"data": {"values": [{}]},
"mark": {"type": "rect", "color": "white"},
"encoding": {
"x": {"datum": 15.5, "type": "quantitative", "axis": null},
"x2": {"datum": 39.7},
"y": {"datum": 4.25, "type": "quantitative", "axis": null},
"y2": {"datum": -0.75}
}
},
{
"data": {"values": [{}]},
"mark": {"type": "rule", "color": "#8c8c8c", "strokeWidth": 1.5},
"encoding": {"y": {"datum": 5, "type": "quantitative", "axis": null}}
},
{
"transform": [{"fold": ["PBS", "Hepes NaCl CaCl2", "Tris KCl MgCl2", "Tris HCl"], "as": ["series", "value"]}],
"mark": {"type": "line", "strokeWidth": 1.1, "clip": true, "opacity": 0.92},
"encoding": {
"x": {"field": "t", "type": "quantitative",
"scale": {"domain": [0, 44.3], "nice": false, "zero": false},
"axis": {"orient": "bottom", "values": [0, 10, 20, 30, 40], "labelExpr": "datum.value % 20 === 0 ? toString(datum.value) : ''",
"grid": false, "domainColor": "#808080", "domainWidth": 2, "tickColor": "#808080", "tickWidth": 1.5, "tickSize": 4,
"labelColor": "#5a5a5a", "labelFontSize": 12.5, "labelPadding": 7, "labelFont": "Liberation Sans",
"title": "Temps (min)", "titleFontSize": 13.5, "titleFontWeight": "bold", "titleColor": "#111111", "titleFont": "Liberation Sans",
"titleX": 449, "titleY": 50, "titleAlign": "center", "titleBaseline": "alphabetic"}},
"y": {"field": "value", "type": "quantitative",
"scale": {"domain": [-5, 5], "nice": false},
"axis": {"orient": "left", "values": [-5, -4.5, -4, -3.5, -3, -2.5, -2, -1.5, -1, -0.5, 0, 0.5, 1, 1.5, 2, 2.5, 3, 3.5, 4, 4.5, 5],
"labelExpr": "replace(toString(datum.value), '.', ',')",
"grid": true, "gridColor": "#d6d6d6", "gridWidth": 1.3,
"domainColor": "#808080", "domainWidth": 2, "tickColor": "#808080", "tickWidth": 1.5, "tickSize": 5,
"labelColor": "#5a5a5a", "labelFontSize": 13, "labelPadding": 2, "labelFont": "Liberation Sans",
"title": "Δf (Hz)", "titleFontSize": 13, "titleFontWeight": "bold", "titleColor": "#111111", "titleFont": "Liberation Sans", "titlePadding": 17}},
"color": {"field": "series", "type": "nominal",
"scale": {"domain": ["PBS", "Hepes NaCl CaCl2", "Tris KCl MgCl2", "Tris HCl"], "range": ["#33e833", "#a9bd2b", "#3a9b8c", "#8a7a28"]},
"legend": {"orient": "none", "legendX": 270, "legendY": 68, "title": null, "padding": 0,
"symbolSize": 0, "symbolOpacity": 0, "symbolStrokeWidth": 0, "labelOffset": 0,
"labelFontSize": 30, "labelFont": "Liberation Sans", "labelFontWeight": "bold", "labelLimit": 500, "rowPadding": 8,
"labelColor": {"expr": "datum.label == 'PBS' ? '#3fe63f' : datum.label == 'Hepes NaCl CaCl2' ? '#82bd52' : datum.label == 'Tris KCl MgCl2' ? '#0f9a4c' : '#7b5530'"}}}
}
}
]
}
